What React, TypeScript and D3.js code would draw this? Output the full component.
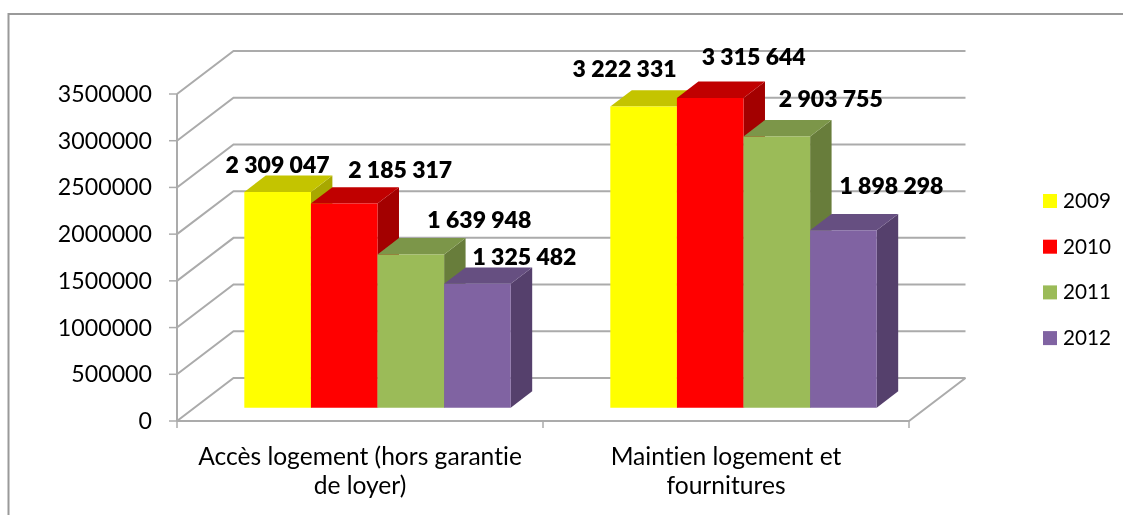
import React from 'react'
import * as d3 from 'd3'

const categories = [
  ['Accès logement (hors garantie', 'de loyer)'],
  ['Maintien logement et', 'fournitures'],
]
const years = ['2009', '2010', '2011', '2012']
const values2009 = [2309047, 3222331]
const values2010 = [2185317, 3315644]
const values2011 = [1639948, 2903755]
const values2012 = [1325482, 1898298]
const series = [values2009, values2010, values2011, values2012]
const ticks = [0, 500000, 1000000, 1500000, 2000000, 2500000, 3000000, 3500000]

const faceColors = ['#ffff00', '#ff0000', '#9bbb59', '#8064a2']
const topColors = ['#c4c400', '#c00000', '#7c9648', '#664f81']
const sideColors = ['#a8a800', '#a30000', '#687d3b', '#553f6c']

// hand placed labels, offset from the top middle of each bar front
const labelDx = [[0, -19], [56, 43.5], [68.5, 54], [47, 48]]
const labelDy = [[-18.7, -30], [-25, -33], [-26, -29], [-19, -36]]

const fontFamily = 'Lato, sans-serif'
const gridColor = '#ababab'

const x = d3.scaleBand<number>().domain([0, 1]).range([177, 909])
const y = d3.scaleLinear().domain([0, 3500000]).range([421, 94])
const inner = d3.scaleBand<number>().domain([0, 1, 2, 3]).range([0, 266.4])

// 3d offset of the box
const wallDx = 56.5
const wallDy = 43
const barNear = 0.31
const barFar = 0.69

const project = (px: number, v: number, depth: number): [number, number] => [
  px + wallDx * depth,
  y(v) - wallDy * depth,
]
const poly = d3.line()
const closed = (pts: [number, number][]) => poly(pts) + 'Z'

function Bar({ cat, s }: { cat: number; s: number }) {
  const v = series[s][cat]
  const x0 = x(cat)! + x.bandwidth() / 2 - inner.range()[1] / 2 + inner(s)!
  const x1 = x0 + inner.bandwidth()
  const front = closed([project(x0, v, barNear), project(x1, v, barNear), project(x1, 0, barNear), project(x0, 0, barNear)])
  const top = closed([project(x0, v, barNear), project(x1, v, barNear), project(x1, v, barFar), project(x0, v, barFar)])
  const side = closed([project(x1, v, barNear), project(x1, v, barFar), project(x1, 0, barFar), project(x1, 0, barNear)])
  return (
    <g>
      <path d={side} fill={sideColors[s]} />
      <path d={top} fill={topColors[s]} />
      <path d={front} fill={faceColors[s]} />
    </g>
  )
}

export default function App() {
  return (
    <svg width={1123} height={515} style={{ position: 'absolute', left: 0, top: 0, background: '#fff', fontVariantLigatures: 'none' }} fontFamily={fontFamily}>
      <defs>
        <filter id="soft" x="-5%" y="-5%" width="110%" height="110%">
          <feGaussianBlur stdDeviation="0.45" />
        </filter>
      </defs>
      <g filter="url(#soft)">
        <path d="M8.5,515V14H1123" fill="none" stroke="#9a9a9a" strokeWidth={2} />

        {ticks.map(t => {
          const a = project(177, t, 0)
          const b = project(177, t, 1)
          const c = project(909, t, 1)
          return <path key={t} d={poly([a, b, c])!} fill="none" stroke={gridColor} strokeWidth={2} />
        })}
        <path d={poly([project(177, 0, 0), project(909, 0, 0), project(909, 0, 1)])!} fill="none" stroke={gridColor} strokeWidth={2} />
        <line x1={177} x2={177} y1={y(0)} y2={y(3500000)} stroke={gridColor} strokeWidth={2} />

        {ticks.map(t => (
          <g key={t}>
            <line x1={169} x2={177} y1={y(t)} y2={y(t)} stroke={gridColor} strokeWidth={1.5} />
            <text x={152} y={y(t) + 8} textAnchor="end" fontSize={23.2} fill="#000">{t}</text>
          </g>
        ))}
        {[177, 543, 909].map(px => (
          <line key={px} x1={px} x2={px} y1={421} y2={428} stroke={gridColor} strokeWidth={1.5} />
        ))}

        {categories.map((_, cat) => series.map((_s, s) => <Bar key={cat + '-' + s} cat={cat} s={s} />))}

        {categories.map((lines, cat) => lines.map((line, i) => (
          <text key={line} x={x(cat)! + x.bandwidth() / 2} y={465 + i * 28.5} textAnchor="middle" fontSize={24.6} fill="#000">{line}</text>
        )))}

        {series.map((vals, s) => vals.map((v, cat) => {
          const x0 = x(cat)! + x.bandwidth() / 2 - inner.range()[1] / 2 + inner(s)!
          const [tx, ty] = project(x0 + inner.bandwidth() / 2, v, barNear)
          const label = d3.format(',')(v).replace(/,/g, ' ')
          return (
            <text key={v} x={tx + labelDx[s][cat]} y={ty + labelDy[s][cat]} textAnchor="middle" fontSize={23} fontWeight={800} fill="#000">{label}</text>
          )
        }))}

        {years.map((yr, i) => (
          <g key={yr} transform={`translate(1043,${194 + i * 45.7})`}>
            <rect width={14} height={14} fill={faceColors[i]} />
            <text x={20} y={14} fontSize={20.7} fill="#000">{yr}</text>
          </g>
        ))}
      </g>
    </svg>
  )
}
